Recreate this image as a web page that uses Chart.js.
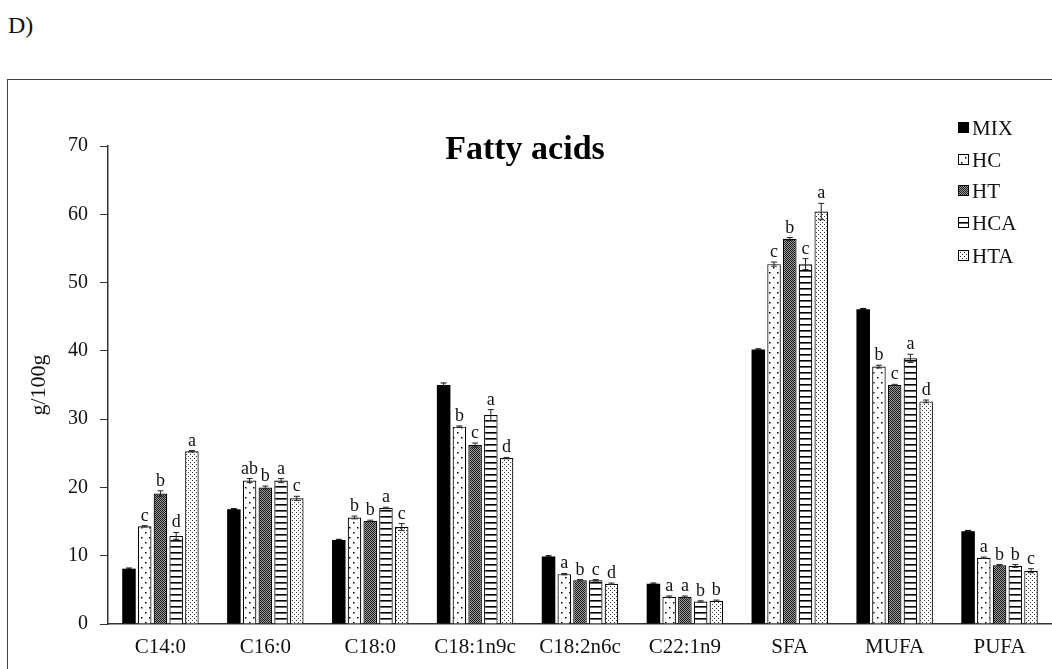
<!DOCTYPE html>
<html>
<head>
<meta charset="utf-8">
<script src="https://cdn.jsdelivr.net/npm/chart.js@4.4.1/dist/chart.umd.min.js"></script>
<style>
  html, body { margin: 0; padding: 0; background: #fff; overflow: hidden; }
  #wrap { position: relative; width: 1052px; height: 669px; }
  #panel { position: absolute; left: 8px; top: 13px; font: 24px 'Liberation Serif', serif; color: #111; line-height: 1; }
  #frame { position: absolute; left: 7px; top: 79px; width: 1100px; height: 700px; border: 1.5px solid #444; box-sizing: border-box; }
  #graficoAcidos { position: absolute; left: 0; top: 0; }
</style>
</head>
<body>
<div id="wrap">
  <div id="panel">D)</div>
  <div id="frame"></div>
  <canvas id="graficoAcidos" width="1052" height="669"></canvas>
</div>
<script>
const categorias = ['C14:0', 'C16:0', 'C18:0', 'C18:1n9c', 'C18:2n6c', 'C22:1n9', 'SFA', 'MUFA', 'PUFA'];
const series = ['MIX', 'HC', 'HT', 'HCA', 'HTA'];

const valMIX = [8.1, 16.8, 12.3, 35.0, 9.9, 5.9, 40.2, 46.1, 13.6];
const valHC  = [14.3, 21.0, 15.6, 28.9, 7.3, 4.0, 52.7, 37.7, 9.7];
const valHT  = [19.1, 20.0, 15.1, 26.2, 6.4, 4.0, 56.4, 35.0, 8.6];
const valHCA = [12.9, 21.0, 17.0, 30.6, 6.4, 3.3, 52.7, 38.9, 8.5];
const valHTA = [25.3, 18.4, 14.2, 24.3, 5.9, 3.4, 60.4, 32.6, 7.8];

const errMIX = [0.1, 0.1, 0.1, 0.3, 0.1, 0.1, 0.1, 0.1, 0.1];
const errHC  = [0.1, 0.3, 0.2, 0.1, 0.1, 0.1, 0.3, 0.2, 0.1];
const errHT  = [0.4, 0.2, 0.1, 0.3, 0.1, 0.1, 0.2, 0.1, 0.1];
const errHCA = [0.5, 0.3, 0.1, 0.8, 0.1, 0.1, 0.8, 0.6, 0.2];
const errHTA = [0.1, 0.3, 0.5, 0.1, 0.1, 0.1, 1.2, 0.2, 0.3];

const letMIX = ['', '', '', '', '', '', '', '', ''];
const letHC  = ['c', 'ab', 'b', 'b', 'a', 'a', 'c', 'b', 'a'];
const letHT  = ['b', 'b', 'b', 'c', 'b', 'a', 'b', 'c', 'b'];
const letHCA = ['d', 'a', 'a', 'a', 'c', 'b', 'c', 'a', 'b'];
const letHTA = ['a', 'c', 'c', 'd', 'd', 'b', 'a', 'd', 'c'];

const yTicks = [0, 10, 20, 30, 40, 50, 60, 70];

const SERIF = "'Liberation Serif', 'Times New Roman', serif";

// fill patterns like the Excel ones
function makePattern(tipo) {
  const c = document.createElement('canvas');
  const g = c.getContext('2d');
  if (tipo === 'hc') {
    c.width = 8; c.height = 10;
    g.fillStyle = '#fff'; g.fillRect(0, 0, 8, 10);
    g.fillStyle = '#000';
    g.fillRect(1, 2, 1.5, 1.5);
    g.fillRect(5, 7, 1.5, 1.5);
  } else if (tipo === 'ht') {
    c.width = 2; c.height = 2;
    g.fillStyle = '#9a9a9a'; g.fillRect(0, 0, 2, 2);
    g.fillStyle = '#1a1a1a';
    g.fillRect(0, 0, 1, 1);
    g.fillRect(1, 1, 1, 1);
  } else if (tipo === 'hca') {
    c.width = 4; c.height = 6;
    g.fillStyle = '#fff'; g.fillRect(0, 0, 4, 6);
    g.fillStyle = '#000'; g.fillRect(0, 0, 4, 1.6);
  } else if (tipo === 'hta') {
    c.width = 4; c.height = 4;
    g.fillStyle = '#fff'; g.fillRect(0, 0, 4, 4);
    g.fillStyle = '#333';
    g.fillRect(0, 0, 1, 1);
    g.fillRect(2, 2, 1, 1);
  }
  return g.createPattern(c, 'repeat');
}

const ctx = document.getElementById('graficoAcidos').getContext('2d');
const fills = ['#000', makePattern('hc'), makePattern('ht'), makePattern('hca'), makePattern('hta')];
const valores = [valMIX, valHC, valHT, valHCA, valHTA];
const erros = [errMIX, errHC, errHT, errHCA, errHTA];
const letras = [letMIX, letHC, letHT, letHCA, letHTA];

const extras = {
  id: 'extras',
  afterDatasetsDraw(chart) {
    const g = chart.ctx;
    const y = chart.scales.y;
    g.save();
    chart.data.datasets.forEach((ds, i) => {
      const meta = chart.getDatasetMeta(i);
      meta.data.forEach((bar, j) => {
        const v = valores[i][j], e = erros[i][j];
        const yHi = y.getPixelForValue(v + e);
        const yLo = y.getPixelForValue(v - e);
        g.strokeStyle = i === 0 ? '#000' : '#222';
        g.lineWidth = 1;
        g.beginPath();
        g.moveTo(bar.x, yLo); g.lineTo(bar.x, yHi);
        g.moveTo(bar.x - 3, yHi); g.lineTo(bar.x + 3, yHi);
        g.moveTo(bar.x - 3, yLo); g.lineTo(bar.x + 3, yLo);
        g.stroke();
        const l = letras[i][j];
        if (l) {
          g.fillStyle = '#111';
          g.font = '18px ' + SERIF;
          g.textAlign = 'center';
          g.textBaseline = 'alphabetic';
          g.fillText(l, bar.x, yHi - 5);
        }
      });
    });

    // title
    g.fillStyle = '#000';
    g.font = 'bold 34px ' + SERIF;
    g.textAlign = 'center';
    g.textBaseline = 'middle';
    g.fillText('Fatty acids', 525, 150);

    // legend
    const ly = [128, 160, 191, 223, 256];
    series.forEach((s, i) => {
      const bx = 958, by = ly[i] - 6, sz = 11;
      g.fillStyle = fills[i];
      g.fillRect(bx, by, sz, sz);
      g.strokeStyle = '#000';
      g.lineWidth = 1;
      g.strokeRect(bx + 0.5, by + 0.5, sz - 1, sz - 1);
      g.fillStyle = '#111';
      g.font = '21px ' + SERIF;
      g.textAlign = 'left';
      g.textBaseline = 'middle';
      g.fillText(s, 972, ly[i] + 1);
    });
    g.restore();
  }
};

new Chart(ctx, {
  type: 'bar',
  data: {
    labels: categorias,
    datasets: series.map((s, i) => ({
      label: s,
      data: valores[i],
      backgroundColor: fills[i],
      borderColor: '#000',
      borderWidth: i === 0 ? 0 : 1.2,
      categoryPercentage: 0.75,
      barPercentage: 0.86
    }))
  },
  options: {
    responsive: false,
    animation: false,
    layout: { padding: { top: 146, right: 0, bottom: 8, left: 0 } },
    plugins: {
      legend: { display: false },
      tooltip: { enabled: false }
    },
    scales: {
      x: {
        afterFit(scale) { scale.height = 37; },
        grid: { display: false, drawTicks: false },
        border: { display: true, color: '#333', width: 1.5 },
        ticks: { color: '#111', font: { family: SERIF, size: 21 }, padding: 11 }
      },
      y: {
        min: 0,
        max: 70,
        afterFit(scale) { scale.width = 108; },
        afterBuildTicks(scale) { scale.ticks = yTicks.map(v => ({ value: v })); },
        grid: { drawOnChartArea: false, drawTicks: true, tickLength: 8, color: '#333', lineWidth: 1 },
        border: { display: true, color: '#333', width: 1.5 },
        ticks: { color: '#111', font: { family: SERIF, size: 20 }, padding: 12 },
        title: {
          display: true,
          text: 'g/100g',
          color: '#111',
          font: { family: SERIF, size: 22 },
          padding: { top: 26, bottom: 0 }
        }
      }
    }
  },
  plugins: [extras]
});
</script>
</body>
</html>
